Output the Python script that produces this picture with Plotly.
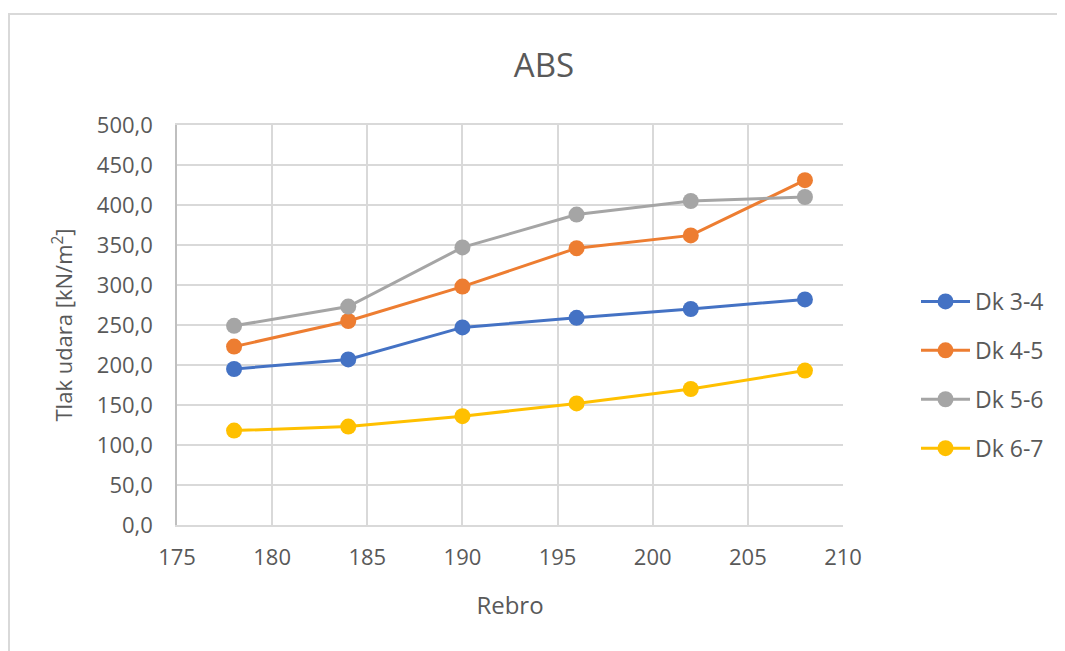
import plotly.graph_objects as go

rebro = [178, 184, 190, 196, 202, 208]
dk_3_4 = [195, 207, 247, 259, 270, 282]
dk_4_5 = [223, 255, 298, 346, 362, 431]
dk_5_6 = [249, 273, 347, 388, 405, 410]
dk_6_7 = [118, 123, 136, 152, 170, 193]

names = ["Dk 3-4", "Dk 4-5", "Dk 5-6", "Dk 6-7"]
series = [dk_3_4, dk_4_5, dk_5_6, dk_6_7]
colors = ["#4472C4", "#ED7D31", "#A5A5A5", "#FFC000"]

FONT = "Open Sans"
GREY_TXT = "#595959"

# page body offset compensation (default 8px body margin)
OX, OY = 8, 8
PL, PT, PW, PH = 177, 125, 666, 400  # plot area in target pixels
W, H = 1065, 651

fig = go.Figure()
for n, s, c in zip(names, series, colors):
    fig.add_trace(go.Scatter(
        x=rebro, y=s, name=n, mode="lines+markers",
        line=dict(color=c, width=3),
        marker=dict(color=c, size=16),
        legendgroup=n,
    ))

fig.update_layout(
    width=W, height=H,
    margin=dict(l=PL - OX, r=W - (PL - OX) - PW, t=PT - OY, b=H - (PT - OY) - PH),
    paper_bgcolor="white", plot_bgcolor="white",
    separators=", ",
    font=dict(family=FONT, color=GREY_TXT, size=22),
    title=dict(text="ABS", x=(544 - OX) / W, xanchor="center", y=1 - (65 - OY) / H, yanchor="middle",
               font=dict(family=FONT, size=33, color=GREY_TXT)),
    xaxis=dict(
        range=[175, 210], dtick=5, tick0=175,
        showgrid=True, gridcolor="#d9d9d9", gridwidth=1.5,
        showline=True, linecolor="#d9d9d9", linewidth=1.5, mirror=True,
        zeroline=False, ticks="", ticklabelstandoff=12,
        tickfont=dict(size=22, color=GREY_TXT),
        title=dict(text="Rebro", font=dict(size=24, color=GREY_TXT), standoff=27),
    ),
    yaxis=dict(
        range=[0, 500], dtick=50, tickformat=".1f",
        showgrid=True, gridcolor="#d9d9d9", gridwidth=1.5,
        showline=True, linecolor="#bfbfbf", linewidth=1.5, mirror=False,
        zeroline=False, ticks="", ticklabelstandoff=18,
        tickfont=dict(size=22, color=GREY_TXT),
        title=dict(text="Tlak udara [kN/m<sup>2</sup>]", font=dict(size=22, color=GREY_TXT), standoff=18),
    ),
    legend=dict(
        x=(916 - PL) / PW, xanchor="left",
        y=(PT + PH - 280) / PH, yanchor="top",
        traceorder="grouped", tracegroupgap=16,
        itemwidth=49,
        font=dict(size=23, color=GREY_TXT),
        bgcolor="rgba(0,0,0,0)",
    ),
    showlegend=True,
)

# outer chart border
fig.add_shape(type="rect", xref="paper", yref="paper",
              x0=(9 - PL) / PW, x1=(1100 - PL) / PW,
              y0=(PT + PH - 700) / PH, y1=(PT + PH - 14) / PH,
              line=dict(color="#d9d9d9", width=2), fillcolor="rgba(0,0,0,0)", layer="below")

fig.write_html("out.html")
